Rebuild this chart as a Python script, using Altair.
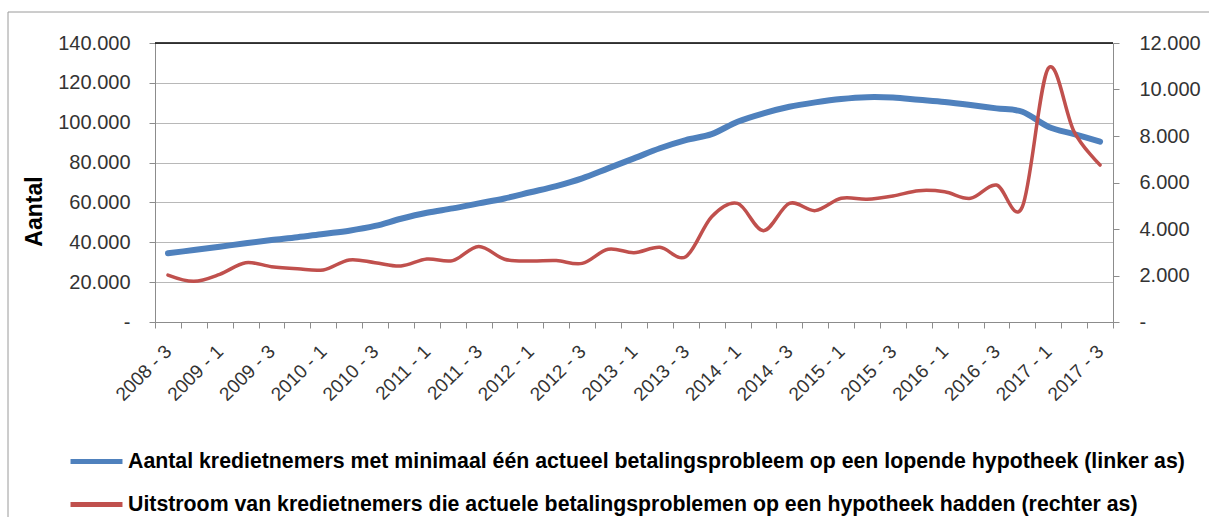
import altair as alt
import pandas as pd

# Quarterly categories (year - quarter)
kwartalen = [
    "2008 - 3", "2008 - 4",
    "2009 - 1", "2009 - 2", "2009 - 3", "2009 - 4",
    "2010 - 1", "2010 - 2", "2010 - 3", "2010 - 4",
    "2011 - 1", "2011 - 2", "2011 - 3", "2011 - 4",
    "2012 - 1", "2012 - 2", "2012 - 3", "2012 - 4",
    "2013 - 1", "2013 - 2", "2013 - 3", "2013 - 4",
    "2014 - 1", "2014 - 2", "2014 - 3", "2014 - 4",
    "2015 - 1", "2015 - 2", "2015 - 3", "2015 - 4",
    "2016 - 1", "2016 - 2", "2016 - 3", "2016 - 4",
    "2017 - 1", "2017 - 2", "2017 - 3",
]

# Borrowers with at least one current payment problem (left axis)
kredietnemers = [
    34500, 36100,
    37800, 39500, 41100, 42500,
    44200, 45800, 48200, 51800,
    54800, 57000, 59500, 62000,
    65100, 68200, 72100, 77100,
    82100, 87200, 91300, 94300,
    100500, 104700, 108000, 110200,
    111900, 112800, 112600, 111500,
    110400, 108900, 107200, 105500,
    98000, 94300, 90500,
]

# Outflow of borrowers that had payment problems (right axis)
uitstroom = [
    2020, 1750,
    2050, 2550, 2380, 2290,
    2240, 2670, 2550, 2410,
    2710, 2640, 3250, 2700,
    2620, 2640, 2520, 3130,
    2980, 3210, 2810, 4530,
    5100, 3930, 5100, 4790,
    5320, 5280, 5420, 5650,
    5600, 5320, 5890, 4960,
    10910, 8180, 6750,
]

serie_links = ("Aantal kredietnemers met minimaal één actueel betalingsprobleem "
               "op een lopende hypotheek (linker as)")
serie_rechts = ("Uitstroom van kredietnemers die actuele betalingsproblemen "
                "op een hypotheek hadden (rechter as)")

links_ticks = [0, 20000, 40000, 60000, 80000, 100000, 120000, 140000]
rechts_ticks = [0, 2000, 4000, 6000, 8000, 10000, 12000]

df_links = pd.DataFrame({"kwartaal": kwartalen, "waarde": kredietnemers, "serie": serie_links})
df_rechts = pd.DataFrame({"kwartaal": kwartalen, "waarde": uitstroom, "serie": serie_rechts})

FONT = "Liberation Sans"
AXIS_GREY = "#8c8c8c"
LABEL_COL = "#333333"
BLUE = "#4F81BD"
RED = "#C0504D"

# Dutch thousands separator, dash for zero
nl_format = "datum.value == 0 ? '-' : replace(format(datum.value, ',.0f'), ',', '.')"
# only the first and third quarter get a label
x_label = ("(substring(datum.value, 7) == '1' || substring(datum.value, 7) == '3')"
           " ? datum.value : ''")

x_enc = alt.X(
    "kwartaal:O",
    sort=kwartalen,
    bandPosition=0.5,
    scale=alt.Scale(type="band", paddingInner=0, paddingOuter=0),
    axis=alt.Axis(
        title=None,
        labelAngle=315,
        labelAlign="right",
        labelBaseline="middle",
        labelExpr=x_label,
        labelOverlap=False,
        labelBound=False,
        labelPadding=20,
        labelFontSize=19,
        tickBand="extent",
        tickSize=6,
        grid=False,
    ),
)

color_enc = alt.Color(
    "serie:N",
    scale=alt.Scale(domain=[serie_links, serie_rechts], range=[BLUE, RED]),
    legend=alt.Legend(
        title=None,
        orient="none",
        legendX=-87,
        legendY=390,
        direction="vertical",
        symbolType="stroke",
        symbolStrokeWidth=5,
        symbolSize=2700,
        labelFontSize=21.3,
        labelFontWeight="bold",
        labelColor="#000000",
        labelLimit=1300,
        labelOffset=3,
        rowPadding=4,
        padding=0,
    ),
)

lijn_links = alt.Chart(df_links).mark_line(
    strokeWidth=6, interpolate="cardinal", strokeCap="round"
).encode(
    x=x_enc,
    y=alt.Y(
        "waarde:Q",
        scale=alt.Scale(domain=[0, 140000], nice=False),
        axis=alt.Axis(
            title="Aantal",
            values=links_ticks,
            labelExpr=nl_format,
            labelOverlap=False,
            labelPadding=19,
            tickSize=6,
            grid=True,
            titleAngle=270,
            titleFontSize=23,
            titleFontWeight="bold",
            titleColor="#000000",
            titleAlign="center",
            titleBaseline="alphabetic",
            titleX=-114,
            titleY=168,
        ),
    ),
    color=color_enc,
)

# dark upper edge of the plot area
bovenrand = alt.Chart(pd.DataFrame({"k": [0]})).mark_rule(
    color="#000000", strokeWidth=1.5
).encode(y=alt.value(0))

# outer chart frame (left and top edge)
kader = pd.DataFrame({"k": [0]})
kader_links = alt.Chart(kader).mark_rule(color="#9a9a9a", strokeWidth=1).encode(
    x=alt.value(-147), y=alt.value(-31), y2=alt.value(480)
)
kader_boven = alt.Chart(kader).mark_rule(color="#9a9a9a", strokeWidth=1).encode(
    x=alt.value(-147), x2=alt.value(1060), y=alt.value(-31)
)

lijn_rechts = alt.Chart(df_rechts).mark_line(
    strokeWidth=3.5, interpolate="cardinal", strokeCap="round"
).encode(
    x=x_enc,
    y=alt.Y(
        "waarde:Q",
        scale=alt.Scale(domain=[0, 12000], nice=False),
        axis=alt.Axis(
            title=None,
            orient="right",
            values=rechts_ticks,
            labelExpr=nl_format,
            labelOverlap=False,
            labelPadding=20,
            tickSize=6,
            grid=False,
        ),
    ),
    color=color_enc,
)

links = alt.layer(lijn_links, kader_links, kader_boven, bovenrand)

chart = (
    alt.layer(links, lijn_rechts)
    .resolve_scale(y="independent")
    .properties(
        width=958,
        height=279,
        autosize=alt.AutoSizeParams(type="none"),
        padding={"left": 155, "top": 43, "right": 96, "bottom": 195},
        background="#ffffff",
    )
    .configure_view(stroke=None)
    .configure_axis(
        labelFont=FONT,
        titleFont=FONT,
        labelFontSize=20,
        labelColor=LABEL_COL,
        domainColor=AXIS_GREY,
        domainWidth=1,
        tickColor=AXIS_GREY,
        tickWidth=1,
        gridColor="#b8b8b8",
        gridWidth=1,
    )
    .configure_legend(labelFont=FONT)
)

chart.save("out.html", embed_options={"renderer": "svg", "actions": False})
